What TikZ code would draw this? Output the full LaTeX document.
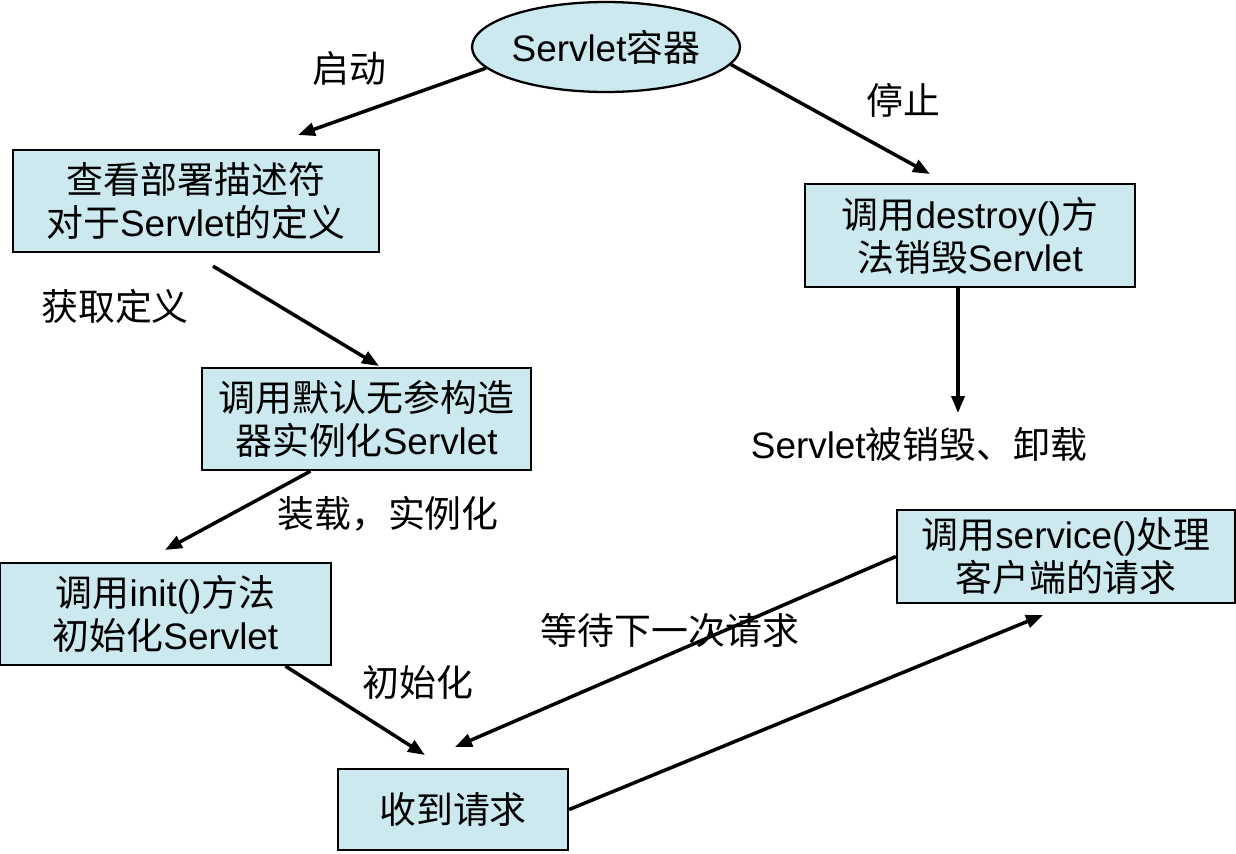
\documentclass[tikz,border=0pt]{standalone}
\usepackage{fontspec}
\setmainfont{Noto Sans CJK SC}
\newfontfamily\latinfont{Liberation Sans}
\usetikzlibrary{arrows.meta,positioning,calc,shapes.geometric}
\definecolor{ServFill}{HTML}{CCE9F0}
\definecolor{ServLine}{HTML}{000000}
\newcommand{\en}[1]{{\latinfont #1}}

\begin{document}
\begin{tikzpicture}[
  x=0.02cm,y=-0.02cm,
  flow/.style={
    -{Triangle[length=3.4mm,width=2.6mm]},
    line width=2pt,
    draw=ServLine
  },
  stepbox/.style={
    rectangle,
    line width=1.3pt,
    draw=ServLine,
    fill=ServFill,
    align=center,
    inner sep=2pt,
    minimum height=2.04cm,
    font=\fontsize{21}{24.5}\selectfont
  },
  container/.style={
    ellipse,
    line width=1.3pt,
    draw=ServLine,
    fill=ServFill,
    inner sep=0pt,
    minimum width=5.36cm,
    minimum height=1.8cm,
    font=\fontsize{21}{24.5}\selectfont
  },
  steplabel/.style={
    font=\fontsize{21}{24.5}\selectfont,
    inner sep=0pt
  }
]
\useasboundingbox (0,0) rectangle (1236,853);

% -------------------------------------------------
% Container
% -------------------------------------------------
\node[container] (ctr) at (606,47) {\en{Servlet}容器};

% -------------------------------------------------
% Left branch: start up
% -------------------------------------------------
\node[stepbox, minimum width=7.32cm] (desc) at (196,201)
  {查看部署描述符\\对于\en{Servlet}的定义};

\node[stepbox, minimum width=6.58cm] (inst) at (366.5,419)
  {调用默认无参构造\\器实例化\en{Servlet}};

\node[stepbox, minimum width=6.62cm] (init) at (165.5,614)
  {调用\en{init()}方法\\初始化\en{Servlet}};

\node[stepbox, minimum width=4.6cm, minimum height=1.62cm] (recv) at (453,809.5)
  {收到请求};

\node[stepbox, minimum width=6.76cm, minimum height=1.86cm] (svc) at (1066,556.5)
  {调用\en{service()}处理\\客户端的请求};

% -------------------------------------------------
% Right branch: shut down
% -------------------------------------------------
\node[stepbox, minimum width=6.6cm, minimum height=2.06cm] (dest) at (970,235.5)
  {调用\en{destroy()}方\\法销毁\en{Servlet}};

\node[steplabel] (gone) at (919,444) {\en{Servlet}被销毁、卸载};

% Arrow labels
\node[steplabel] (lstart) at (349,68) {启动};
\node[steplabel] (lstop) at (903,100) {停止};
\node[steplabel] (lget) at (115,306) {获取定义};
\node[steplabel] (lload) at (388,514) {装载，实例化};
\node[steplabel] (linit) at (418,682) {初始化};
\node[steplabel] (lwait) at (670,630) {等待下一次请求};

% Free arrow ends
\coordinate (descTip) at (298,135);
\coordinate (destTip) at (930,174);
\coordinate (instTip) at (379,366);
\coordinate (initTip) at (165,550);
\coordinate (recvTip) at (425,755);
\coordinate (svcTip) at (1043,615);
\coordinate (waitTip) at (455,747);
\coordinate (goneTip) at (958,413);

% -------------------------------------------------
% Connectors
% -------------------------------------------------
\draw[flow] (ctr.190) -- (descTip);
\draw[flow] (ctr.-8) -- (destTip);
\draw[flow] ($(desc.south)+(17,13)$) -- (instTip);
\draw[flow] ($(inst.south)+(-56,0)$) -- (initTip);
\draw[flow] ($(init.south)+(120,0)$) -- (recvTip);
\draw[flow] (recv.east) -- (svcTip);
\draw[flow] (svc.west) -- (waitTip);
\draw[flow] ($(dest.south)+(-12,0)$) -- (goneTip);

\end{tikzpicture}
\end{document}
